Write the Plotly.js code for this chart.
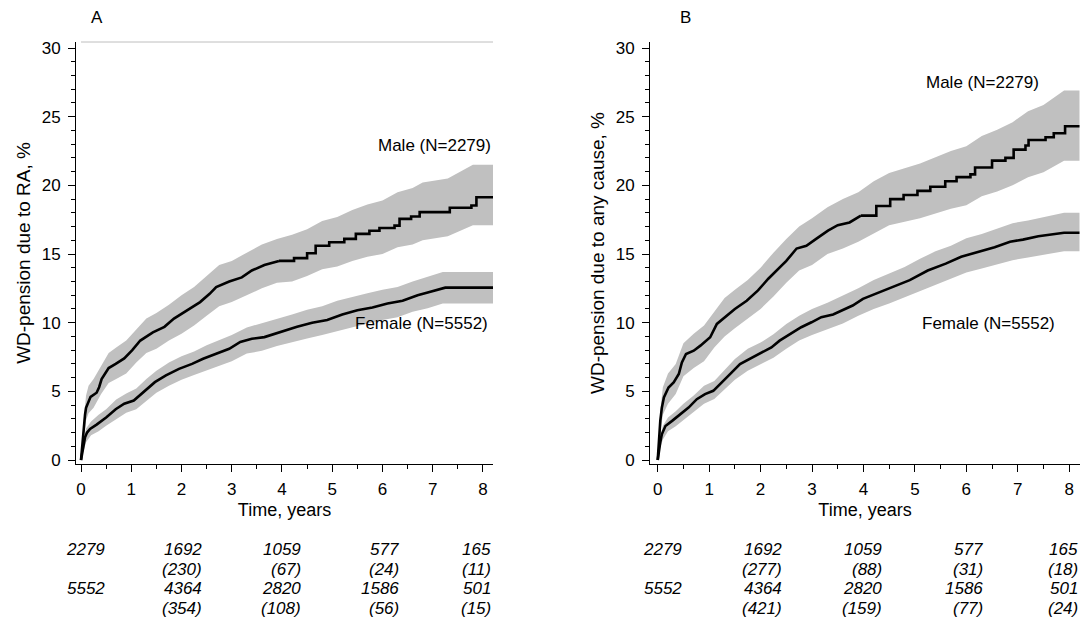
<!DOCTYPE html>
<html>
<head>
<meta charset="utf-8">
<script src="https://cdn.plot.ly/plotly-3.0.1.min.js"></script>
<style>
html,body{margin:0;padding:0;background:#fff;}
#chart{width:1087px;height:624px;}
</style>
</head>
<body>
<div id="chart"></div>
<script>
// ---------------- DATA ----------------
// Panel A: WD-pension due to RA
const maleA_t = [0,0.02,0.04,0.06,0.08,0.10,0.13,0.19,0.31,0.36,0.41,0.48,0.55,0.69,0.86,1.02,1.18,1.43,1.66,1.85,2.11,2.37,2.56,2.69,2.95,3.20,3.40,3.65,3.94,4.24,4.50,4.67,4.94,5.24,5.47,5.74,5.94,6.24,6.34,6.57,6.74,7.34,7.77,7.87,8.2];
const maleA_v = [0,0.9,1.8,2.6,3.3,3.8,4.1,4.6,4.9,5.3,5.9,6.3,6.7,7.0,7.4,8.0,8.7,9.3,9.7,10.3,10.9,11.5,12.1,12.6,13.0,13.3,13.8,14.2,14.5,14.7,15.06,15.6,15.86,16.1,16.47,16.7,16.9,17.07,17.56,17.73,18.05,18.37,18.53,19.14,19.14];
const maleA_bt = [0,0.05,0.1,0.15,0.25,0.4,0.55,0.7,0.9,1.1,1.3,1.5,1.75,2.0,2.25,2.5,2.75,3.0,3.3,3.6,3.9,4.2,4.5,4.8,5.1,5.4,5.7,6.0,6.3,6.6,6.8,7.3,7.8,8.2];
const maleA_lo = [0,1.6,2.9,3.4,3.8,4.8,5.6,5.9,6.3,7.1,7.8,8.1,8.7,9.2,9.8,10.5,11.2,11.5,12.0,12.5,12.9,13.0,13.4,13.9,14.1,14.5,14.8,15.0,15.5,15.7,16.0,16.3,17.1,17.1];
const maleA_hi = [0,2.8,4.7,5.4,5.9,6.9,7.8,8.2,8.7,9.5,10.3,10.7,11.3,12.0,12.6,13.4,14.2,14.5,15.1,15.7,16.1,16.4,16.8,17.4,17.7,18.2,18.6,18.9,19.5,19.8,20.2,20.5,21.5,21.5];

const femaleA_t = [0,0.02,0.04,0.06,0.08,0.12,0.18,0.31,0.5,0.69,0.86,1.05,1.24,1.47,1.69,1.95,2.21,2.43,2.69,2.95,3.17,3.40,3.65,3.94,4.3,4.6,4.9,5.2,5.5,5.8,6.1,6.4,6.7,6.9,7.25,8.2];
const femaleA_v = [0,0.5,0.9,1.25,1.65,2.0,2.26,2.58,3.1,3.7,4.1,4.33,4.94,5.67,6.16,6.64,7.0,7.37,7.74,8.1,8.6,8.83,8.95,9.3,9.7,10.0,10.2,10.6,10.9,11.1,11.4,11.6,12.0,12.2,12.55,12.55];
const femaleA_bt = [0,0.05,0.1,0.2,0.35,0.5,0.7,0.9,1.1,1.3,1.5,1.75,2.0,2.25,2.5,2.75,3.0,3.3,3.6,3.9,4.2,4.5,4.8,5.1,5.4,5.7,6.0,6.3,6.6,6.9,7.2,8.2];
const femaleA_lo = [0,0.7,1.3,1.8,2.1,2.5,3.0,3.45,3.7,4.3,4.9,5.4,5.85,6.2,6.55,6.9,7.2,7.75,7.95,8.3,8.6,8.85,9.1,9.4,9.7,9.95,10.2,10.4,10.8,11.05,11.4,11.4];
const femaleA_hi = [0,1.5,2.3,2.8,3.3,3.7,4.4,4.85,5.2,5.9,6.5,7.1,7.55,7.9,8.35,8.7,9.1,9.65,9.95,10.3,10.6,10.95,11.2,11.6,11.9,12.15,12.4,12.6,13.0,13.35,13.7,13.7];

// Panel B: WD-pension due to any cause
const maleB_t = [0,0.02,0.05,0.08,0.12,0.21,0.31,0.41,0.47,0.55,0.7,0.83,1.02,1.15,1.31,1.5,1.73,1.95,2.15,2.31,2.5,2.7,2.89,3.08,3.31,3.5,3.73,3.95,4.25,4.52,4.78,5.05,5.3,5.59,5.81,6.08,6.17,6.5,6.76,6.92,7.15,7.21,7.54,7.7,7.92,8.2];
const maleB_v = [0,1.2,2.85,3.8,4.55,5.28,5.65,6.26,7.1,7.72,7.96,8.33,8.94,9.91,10.4,11.0,11.6,12.35,13.2,13.8,14.5,15.4,15.6,16.1,16.7,17.1,17.3,17.8,18.5,19.0,19.3,19.6,19.9,20.3,20.6,20.8,21.3,21.8,22.0,22.6,22.9,23.3,23.5,23.8,24.3,24.3];
const maleB_bt = [0,0.05,0.1,0.2,0.35,0.5,0.7,0.9,1.1,1.3,1.5,1.75,2.0,2.25,2.5,2.75,3.0,3.3,3.6,3.9,4.2,4.5,4.8,5.1,5.4,5.7,6.0,6.3,6.6,6.9,7.2,7.5,7.9,8.2];
const maleB_lo = [0,2.0,3.3,4.1,4.8,6.1,6.7,7.2,8.2,9.0,9.6,10.3,11.0,11.9,12.9,13.8,14.2,15.0,15.4,15.9,16.5,17.1,17.35,17.6,17.95,18.3,18.55,19.2,19.55,20.0,20.6,20.95,21.8,21.8];
const maleB_hi = [0,3.6,5.3,6.3,7.0,8.5,9.2,9.8,10.8,11.8,12.4,13.1,14.0,15.1,16.1,17.0,17.6,18.4,19.0,19.5,20.3,20.9,21.25,21.6,22.05,22.5,22.85,23.6,24.05,24.6,25.4,25.85,26.9,26.9];

const femaleB_t = [0,0.02,0.05,0.08,0.15,0.28,0.44,0.6,0.76,0.92,1.08,1.25,1.44,1.6,1.79,2.02,2.21,2.37,2.57,2.79,2.99,3.18,3.41,3.6,3.79,3.99,4.3,4.6,4.9,5.25,5.6,5.9,6.2,6.55,6.85,7.1,7.4,7.65,7.9,8.2];
const femaleB_v = [0,0.6,1.3,1.87,2.48,2.85,3.34,3.82,4.43,4.8,5.04,5.65,6.38,6.99,7.35,7.79,8.2,8.69,9.18,9.67,10.03,10.4,10.6,10.93,11.25,11.74,12.2,12.65,13.1,13.8,14.3,14.8,15.1,15.5,15.9,16.05,16.3,16.4,16.55,16.55];
const femaleB_bt = [0,0.05,0.1,0.2,0.35,0.5,0.7,0.9,1.1,1.3,1.5,1.75,2.0,2.25,2.5,2.75,3.0,3.3,3.6,3.9,4.2,4.5,4.8,5.1,5.4,5.7,6.0,6.3,6.6,6.9,7.2,7.5,7.9,8.2];
const femaleB_lo = [0,0.9,1.5,2.1,2.45,2.9,3.5,4.1,4.45,5.15,5.85,6.5,6.95,7.45,8.1,8.7,9.1,9.55,9.95,10.5,11.0,11.4,11.85,12.35,12.8,13.2,13.65,13.95,14.25,14.55,14.75,14.95,15.2,15.2];
const femaleB_hi = [0,1.7,2.5,3.1,3.55,4.1,4.7,5.4,5.75,6.55,7.35,8.1,8.55,9.15,9.9,10.5,11.0,11.45,11.95,12.5,13.1,13.6,14.05,14.65,15.2,15.6,16.15,16.45,16.85,17.25,17.45,17.7,18.0,18.0];

// Number at risk tables (and events)
const riskTimes = [0, 2, 4, 6, 8];
const atRiskMale   = ["2279","1692","1059","577","165"];
const atRiskFemale = ["5552","4364","2820","1586","501"];
const eventsMaleA   = ["","(230)","(67)","(24)","(11)"];
const eventsFemaleA = ["","(354)","(108)","(56)","(15)"];
const eventsMaleB   = ["","(277)","(88)","(31)","(18)"];
const eventsFemaleB = ["","(421)","(159)","(77)","(24)"];

const xTicks = [0,1,2,3,4,5,6,7,8];
const yTicks = [0,5,10,15,20,25,30];
const labelMale = "Male (N=2279)";
const labelFemale = "Female (N=5552)";
const titleYA = "WD-pension due to RA, %";
const titleYB = "WD-pension due to any cause, %";
const titleX = "Time, years";

// ---------------- LAYOUT CONSTANTS ----------------
const W = 1087, H = 624;
const FONT = "Liberation Sans, Arial, Helvetica, sans-serif";
const band = "rgb(192,192,192)";
const px = v => v / W;
const py = v => 1 - v / H;
const STEP_FROM = 3.9; // later part of the male curves drawn as visible steps

function bandTraces(t, lo, hi, xa, ya) {
  return [
    {x: t, y: lo, xaxis: xa, yaxis: ya, mode: "lines", line: {shape: "linear", width: 0, color: band}, hoverinfo: "skip", showlegend: false},
    {x: t, y: hi, xaxis: xa, yaxis: ya, mode: "lines", fill: "tonexty", fillcolor: band, line: {shape: "linear", width: 0, color: band}, hoverinfo: "skip", showlegend: false}
  ];
}
function curve(t, v, xa, ya, stepped) {
  const ln = s => ({shape: s, width: 2.6, color: "#000"});
  if (!stepped) {
    return [{x: t, y: v, xaxis: xa, yaxis: ya, mode: "lines", line: ln("linear"), showlegend: false}];
  }
  const k = t.findIndex(d => d >= STEP_FROM);
  return [
    {x: t.slice(0, k + 1), y: v.slice(0, k + 1), xaxis: xa, yaxis: ya, mode: "lines", line: ln("linear"), showlegend: false},
    {x: t.slice(k), y: v.slice(k), xaxis: xa, yaxis: ya, mode: "lines", line: ln("hv"), showlegend: false}
  ];
}

const traces = [
  ...bandTraces(maleA_bt, maleA_lo, maleA_hi, "x", "y"),
  ...bandTraces(femaleA_bt, femaleA_lo, femaleA_hi, "x", "y"),
  ...curve(maleA_t, maleA_v, "x", "y", true),
  ...curve(femaleA_t, femaleA_v, "x", "y", false),
  ...bandTraces(maleB_bt, maleB_lo, maleB_hi, "x2", "y2"),
  ...bandTraces(femaleB_bt, femaleB_lo, femaleB_hi, "x2", "y2"),
  ...curve(maleB_t, maleB_v, "x2", "y2", true),
  ...curve(femaleB_t, femaleB_v, "x2", "y2", false)
];

const yDomain = [py(464), py(42)];
function xAxis(domain, range, anchor) {
  return {
    domain: domain, range: range, anchor: anchor,
    showline: true, linecolor: "#000", linewidth: 1,
    showgrid: false, zeroline: false,
    tickmode: "array", tickvals: xTicks, ticktext: xTicks.map(String),
    ticks: "outside", ticklen: 7, tickwidth: 1, tickcolor: "#000",
    minor: {dtick: 0.5, tick0: 0, ticks: "outside", ticklen: 4, tickwidth: 1, tickcolor: "#000", showgrid: false},
    tickfont: {family: FONT, size: 17, color: "#000"},
    ticklabelstandoff: 3,
    title: {text: titleX, font: {family: FONT, size: 18, color: "#000"}, standoff: 4}
  };
}
function yAxis(domain, anchor, title) {
  return {
    domain: domain, range: [-0.29, 30.44], anchor: anchor,
    showline: true, linecolor: "#000", linewidth: 1,
    showgrid: false, zeroline: false,
    tickmode: "array", tickvals: yTicks, ticktext: yTicks.map(String),
    ticks: "outside", ticklen: 7, tickwidth: 1, tickcolor: "#000",
    minor: {dtick: 1, tick0: 0, ticks: "outside", ticklen: 4, tickwidth: 1, tickcolor: "#000", showgrid: false},
    tickfont: {family: FONT, size: 17, color: "#000"},
    ticklabelstandoff: 4,
    title: {text: title, font: {family: FONT, size: 19, color: "#000"}, standoff: 6}
  };
}

const annotations = [];
const annFont = {family: FONT, size: 17, color: "#000"};
annotations.push({xref: "paper", yref: "paper", x: px(97), y: py(17), text: "A", showarrow: false, xanchor: "center", yanchor: "middle", font: annFont});
annotations.push({xref: "paper", yref: "paper", x: px(685), y: py(17), text: "B", showarrow: false, xanchor: "center", yanchor: "middle", font: annFont});
annotations.push({xref: "paper", yref: "paper", x: px(493), y: py(145), text: labelMale, showarrow: false, xanchor: "right", yanchor: "middle", font: annFont});
annotations.push({xref: "paper", yref: "paper", x: px(490), y: py(323), text: labelFemale, showarrow: false, xanchor: "right", yanchor: "middle", font: annFont});
annotations.push({xref: "paper", yref: "paper", x: px(982), y: py(83), text: labelMale, showarrow: false, xanchor: "center", yanchor: "middle", font: annFont});
annotations.push({xref: "paper", yref: "paper", x: px(988), y: py(323), text: labelFemale, showarrow: false, xanchor: "center", yanchor: "middle", font: annFont});

// at-risk tables
const colRightA = [107, 204, 303, 401, 493];
const colRightB = [684, 784, 884, 985, 1080];
const rowY = [549.5, 569, 588.5, 608];
const tabFont = {family: FONT, size: 17, color: "#000"};
function table(cols, rows) {
  rows.forEach((row, r) => {
    row.forEach((txt, i) => {
      if (!txt) return;
      annotations.push({xref: "paper", yref: "paper", x: px(cols[i]), y: py(rowY[r]), text: "<i>" + txt + "</i>",
        showarrow: false, xanchor: "right", yanchor: "middle", font: tabFont});
    });
  });
}
table(colRightA, [atRiskMale, eventsMaleA, atRiskFemale, eventsFemaleA]);
table(colRightB, [atRiskMale, eventsMaleB, atRiskFemale, eventsFemaleB]);

const layout = {
  width: W, height: H,
  margin: {l: 0, r: 0, t: 0, b: 0},
  paper_bgcolor: "#fff", plot_bgcolor: "#fff",
  font: {family: FONT, size: 17, color: "#000"},
  showlegend: false,
  xaxis: xAxis([px(76), px(493)], [-0.1, 8.2], "y"),
  yaxis: yAxis(yDomain, "x", titleYA),
  xaxis2: xAxis([px(650), px(1080)], [-0.15, 8.21], "y2"),
  yaxis2: yAxis(yDomain, "x2", titleYB),
  shapes: [
    {type: "line", xref: "x", yref: "y domain", x0: 0, x1: 8.2, y0: 1, y1: 1, line: {color: "rgb(190,190,190)", width: 1}}
  ],
  annotations: annotations
};

Plotly.newPlot("chart", traces, layout, {staticPlot: true, displayModeBar: false});
</script>
</body>
</html>
